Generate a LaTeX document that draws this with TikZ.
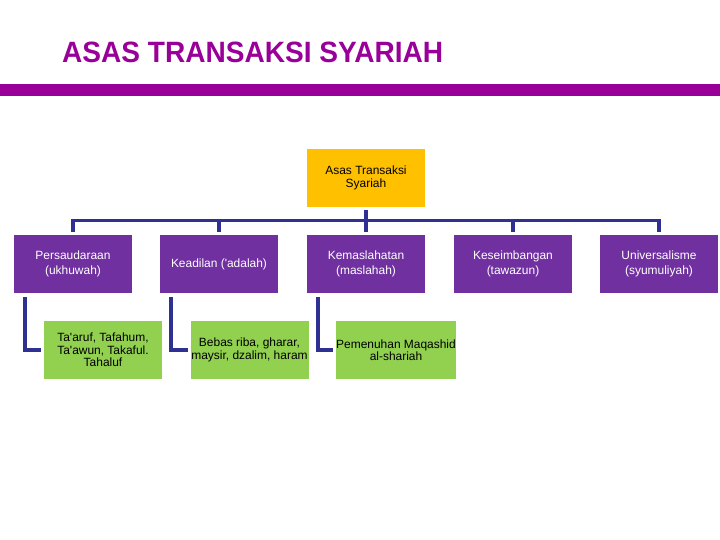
\documentclass[tikz,border=0pt]{standalone}
\usepackage{fontspec}
\setmainfont{Liberation Sans}
\newfontfamily\titlefont[FakeStretch=0.955]{Liberation Sans}
\usetikzlibrary{calc}
\definecolor{titlepurple}{HTML}{990099}
\definecolor{boxpurple}{HTML}{7030A0}
\definecolor{boxgreen}{HTML}{92D050}
\definecolor{boxorange}{HTML}{FFC000}
\definecolor{linknavy}{HTML}{2E3192}
\tikzset{
  rootbox/.style={fill=boxorange, draw=none, minimum width=118bp, minimum height=58bp, inner sep=0pt, align=center, font=\fontsize{12}{12.5}\selectfont, text=black},
  topicbox/.style={fill=boxpurple, draw=none, minimum width=118bp, minimum height=58bp, inner sep=0pt, align=center, font=\fontsize{12}{14.3}\selectfont, text=white},
  detailbox/.style={fill=boxgreen, draw=none, minimum width=118bp, minimum height=58bp, inner sep=0pt, align=center, font=\fontsize{12}{12.5}\selectfont, text=black},
  conn/.style={draw=linknavy, line width=3.4bp},
}
\begin{document}
\begin{tikzpicture}[x=1bp,y=-1bp]
\useasboundingbox (0,0) rectangle (720,540);
% title
\node[anchor=base west, inner sep=0pt, text=titlepurple, font=\titlefont\bfseries\fontsize{29.5}{32}\selectfont] (title) at (62,62.5) {ASAS TRANSAKSI SYARIAH};
\fill[titlepurple] (0,84) rectangle (720,96.5);
% nodes
\node[rootbox] (root) at (366,178) {Asas Transaksi\\Syariah};
\node[topicbox] (p1) at (73,264) {Persaudaraan\\(ukhuwah)};
\node[topicbox] (p2) at (219,264) {Keadilan (\textquotesingle adalah)};
\node[topicbox] (p3) at (366,264) {Kemaslahatan\\(maslahah)};
\node[topicbox] (p4) at (513,264) {Keseimbangan\\(tawazun)};
\node[topicbox] (p5) at (659,264) {Universalisme\\(syumuliyah)};
\node[detailbox] (g1) at (103,350) {Ta\textquotesingle aruf, Tafahum,\\Ta\textquotesingle awun, Takaful.\\Tahaluf};
\node[detailbox] (g2) at (249.5,350) {Bebas riba, gharar,\\maysir, dzalim, haram};
\node[detailbox] (g3) at (396,350) {Pemenuhan Maqashid\\al-shariah};
% connectors
\coordinate (bus) at (0,220.5);
\draw[conn] ($(root.south)+(0,3)$) -- ($(p3.north)+(0,-3)$);
\draw[conn] ($(p1.north)+(0,-3)$) -- (p1.north |- bus) -- (p5.north |- bus) -- ($(p5.north)+(0,-3)$);
\foreach \p in {p2,p4}{\draw[conn] (\p.north |- bus) -- ($(\p.north)+(0,-3)$);}
\draw[conn] ($(p1.south west)+(11.3,4)$) |- ($(g1.west)+(-2.5,0)$);
\draw[conn] ($(p2.south west)+(11.3,4)$) |- ($(g2.west)+(-2.5,0)$);
\draw[conn] ($(p3.south west)+(11.3,4)$) |- ($(g3.west)+(-2.5,0)$);
\end{tikzpicture}
\end{document}
